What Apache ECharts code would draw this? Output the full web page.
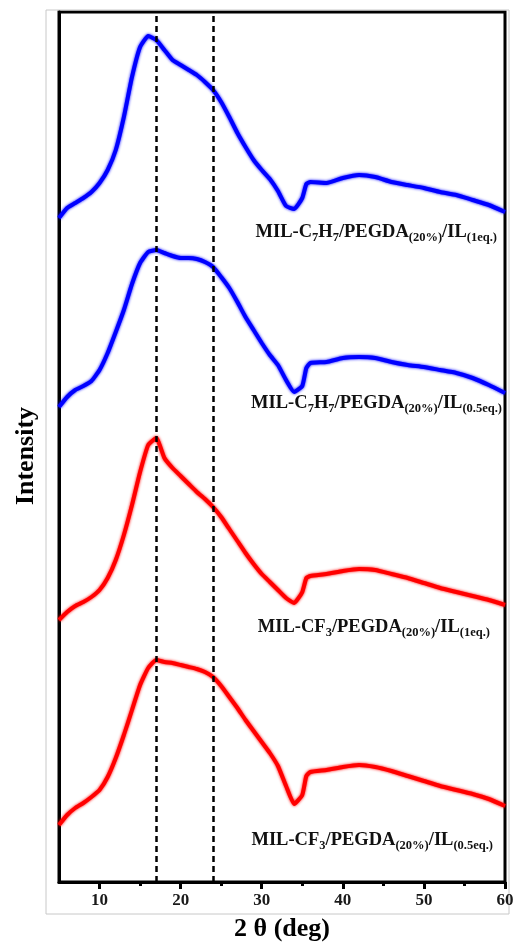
<!DOCTYPE html>
<html>
<head>
<meta charset="utf-8">
<script src="https://cdn.jsdelivr.net/npm/echarts@6/dist/echarts.min.js"></script>
<style>
  html, body { margin: 0; padding: 0; background: #fff; }
  #chart { width: 514px; height: 948px; }
</style>
</head>
<body>
<div id="chart"></div>
<script>
// 2θ positions (deg) shared by all four patterns
const twoTheta = [5,6,7,8,9,10,11,12,13,14,15,16,17,18,19,20,21,22,23,24,25,26,27,28,29,30,31,32,33,34,35,35.5,36,38,40,42,44,46,48,50,52,54,56,58,60];

// Stacked intensities (a.u., offset per sample)
const c7h7_1eq   = [664,674,679,684,690,699,712,732,765,805,835,846,842,832,822,817,812,807,800,792,780,765,749,735,722,712,703,691,676,673,684,698,700,699,704,707,705,700,697,694,690,687,682,677,670];
const c7h7_05eq  = [475,485,492,496,501,512,529,550,572,598,619,630,632,629,626,624,624,623,620,615,605,594,580,565,552,539,527,517,502,490,496,514,519,520,524,525,524,520,517,515,512,509,504,497,489];
const cf3_1eq    = [262,270,276,280,285,292,304,322,347,377,410,437,444,424,414,406,398,390,383,375,365,353,341,329,318,308,300,292,284,279,290,304,306,308,311,313,312,308,304,299,294,290,286,282,277];
const cf3_05eq   = [57,67,74,79,85,92,105,124,147,172,197,214,222,220,219,217,215,213,210,205,196,185,174,162,151,140,129,116,96,78,87,106,110,112,115,117,115,111,106,101,96,92,88,83,76];

// Axis ticks and reference lines
const majorTicks = [10,20,30,40,50,60];
const minorTicks = [15,25,35,45,55];
const refLines = [17, 24];

const serif = '"Liberation Serif", "Times New Roman", serif';

function pairs(ys) { return twoTheta.map((x, i) => [x, ys[i]]); }

function curve(name, ys, color, extra) {
  return Object.assign({
    name: name,
    type: 'line',
    data: pairs(ys),
    showSymbol: false,
    smooth: 0.15,
    silent: true,
    lineStyle: { color: color, width: 4, shadowColor: color, shadowBlur: 3 },
    z: 3
  }, extra || {});
}

function label(parts, right, y) {
  // parts: array of [text, isSub]
  const txt = parts.map(p => (p[1] ? '{s|' : '{m|') + p[0] + '}').join('');
  return {
    type: 'text',
    right: 514 - right,
    top: y - 11,
    z: 10,
    style: {
      text: txt,
      rich: {
        m: { fontSize: 18.5, fontWeight: 'bold', fontFamily: serif, fill: '#111', lineHeight: 24, verticalAlign: 'middle' },
        s: { fontSize: 12.5, fontWeight: 'bold', fontFamily: serif, fill: '#111', lineHeight: 13, verticalAlign: 'bottom' }
      }
    }
  };
}

const chart = echarts.init(document.getElementById('chart'));
chart.setOption({
  animation: false,
  backgroundColor: '#fff',
  grid: {
    left: 59, right: 9, top: 12, bottom: 66,
    outerBoundsMode: 'none', containLabel: false,
    show: true, borderColor: '#000', borderWidth: 3, backgroundColor: 'transparent'
  },
  xAxis: [
    {
      type: 'value', min: 5, max: 60,
      name: '2 θ (deg)', nameLocation: 'middle', nameGap: 34,
      nameTextStyle: { fontSize: 26, fontWeight: 'bold', fontFamily: serif, color: '#000' },
      axisLine: { show: true, lineStyle: { color: '#000', width: 3 } },
      axisTick: { show: true, customValues: majorTicks, length: 7, inside: false, lineStyle: { color: '#000', width: 3 } },
      axisLabel: { customValues: majorTicks, margin: 10, fontSize: 17, fontWeight: 'bold', fontFamily: serif, color: '#1a1a1a' },
      splitLine: { show: false }
    },
    {
      type: 'value', min: 5, max: 60, position: 'bottom',
      axisLine: { show: false },
      axisTick: { show: true, customValues: minorTicks, length: 4, lineStyle: { color: '#000', width: 3 } },
      axisLabel: { show: false },
      splitLine: { show: false }
    }
  ],
  yAxis: {
    type: 'value', min: 0, max: 870,
    name: 'Intensity', nameLocation: 'middle', nameGap: 20,
    nameTextStyle: { fontSize: 26, fontWeight: 'bold', fontFamily: serif, color: '#000', padding: [0, 18, 0, 0] },
    axisLine: { show: true, lineStyle: { color: '#000', width: 3 } },
    axisTick: { show: false },
    axisLabel: { show: false },
    splitLine: { show: false }
  },
  series: [
    curve('MIL-C7H7/PEGDA(20%)/IL(1eq.)', c7h7_1eq, '#0000ff', {
      markLine: {
        silent: true, symbol: 'none', label: { show: false },
        lineStyle: { color: '#000', width: 2.5, type: [6, 4] },
        data: refLines.map(v => ({ xAxis: v }))
      }
    }),
    curve('MIL-C7H7/PEGDA(20%)/IL(0.5eq.)', c7h7_05eq, '#0000ff'),
    curve('MIL-CF3/PEGDA(20%)/IL(1eq.)', cf3_1eq, '#ff0000'),
    curve('MIL-CF3/PEGDA(20%)/IL(0.5eq.)', cf3_05eq, '#ff0000')
  ],
  graphic: [
    { type: 'rect', shape: { x: 46, y: 10, width: 463, height: 904 }, style: { fill: 'none', stroke: '#c8c8c8', lineWidth: 1 }, z: 0, silent: true },
    label([['MIL-C',0],['7',1],['H',0],['7',1],['/PEGDA',0],['(20%)',1],['/IL',0],['(1eq.)',1]], 497, 234),
    label([['MIL-C',0],['7',1],['H',0],['7',1],['/PEGDA',0],['(20%)',1],['/IL',0],['(0.5eq.)',1]], 502, 405),
    label([['MIL-CF',0],['3',1],['/PEGDA',0],['(20%)',1],['/IL',0],['(1eq.)',1]], 490, 629),
    label([['MIL-CF',0],['3',1],['/PEGDA',0],['(20%)',1],['/IL',0],['(0.5eq.)',1]], 493, 842)
  ]
});
</script>
</body>
</html>
